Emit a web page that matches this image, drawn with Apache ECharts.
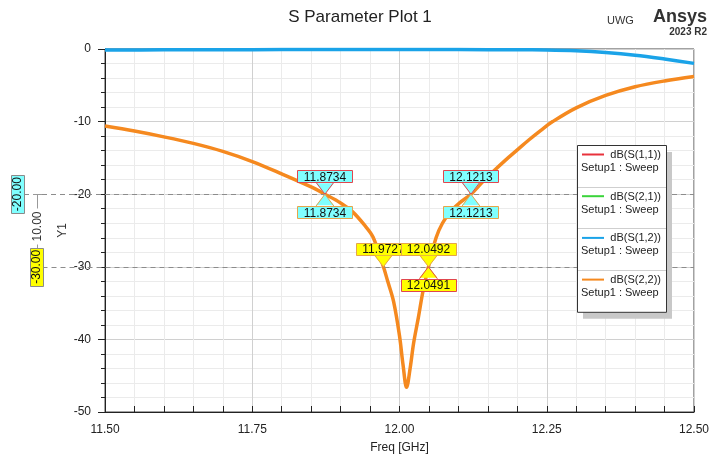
<!DOCTYPE html>
<html><head><meta charset="utf-8">
<script src="https://cdn.jsdelivr.net/npm/echarts@6/dist/echarts.min.js"></script>
<style>html,body{margin:0;padding:0;background:#fff}#c{width:709px;height:455px}</style>
</head><body><div id="c"></div>
<script>
// ---- data ----
const xMin = 11.5, xMax = 12.5, xStep = 0.25;
const yMin = -50, yMax = 0, yStep = 10;

const reflFreq = [11.50, 11.55, 11.60, 11.65, 11.70, 11.75, 11.80, 11.85, 11.8734, 11.90, 11.92, 11.94, 11.955, 11.9727, 11.98, 11.99, 12.00, 12.006, 12.012, 12.018, 12.024, 12.032, 12.04, 12.0492, 12.0621, 12.0729, 12.0875, 12.102, 12.1213, 12.14, 12.16, 12.18, 12.20, 12.22, 12.24, 12.26, 12.30, 12.35, 12.40, 12.45, 12.50];
const s22Db = [-10.6, -11.3, -12.1, -13.0, -14.1, -15.5, -17.2, -19.0, -20.0, -21.2, -22.4, -24.2, -25.9, -30.0, -32.0, -34.8, -39.5, -43.5, -46.6, -44.0, -40.5, -37.0, -33.3, -30.0, -26.0, -24.0, -22.3, -21.2, -20.0, -18.4, -16.8, -15.3, -13.9, -12.5, -11.2, -10.0, -8.1, -6.4, -5.2, -4.4, -3.8];
const s11Db = [-10.6, -11.3, -12.1, -13.0, -14.1, -15.5, -17.2, -19.0, -20.0, -21.2, -22.4, -24.2, -25.9, -30.0, -32.0, -34.8, -39.5, -43.5, -46.6, -44.0, -40.5, -37.0, -33.3, -30.0, -26.0, -24.0, -22.3, -21.2, -20.0, -18.4, -16.8, -15.3, -13.9, -12.5, -11.2, -10.0, -8.1, -6.4, -5.2, -4.4, -3.8];

const transFreq = [11.50, 11.60, 11.70, 11.80, 11.90, 12.00, 12.10, 12.20, 12.25, 12.30, 12.35, 12.40, 12.45, 12.50];
const s12Db = [-0.15, -0.12, -0.10, -0.08, -0.07, -0.07, -0.08, -0.10, -0.14, -0.25, -0.48, -0.85, -1.38, -1.98];
const s21Db = [-0.15, -0.12, -0.10, -0.08, -0.07, -0.07, -0.08, -0.10, -0.14, -0.25, -0.48, -0.85, -1.38, -1.98];

const seriesNames = ['dB(S(1,1))', 'dB(S(2,1))', 'dB(S(1,2))', 'dB(S(2,2))'];
const seriesSub = 'Setup1 : Sweep';
const seriesColors = ['#e8323c', '#3ad43a', '#1aa3e8', '#f5891f'];

const markerFreq = [11.8734, 11.8734, 12.1213, 12.1213, 11.9727, 12.0492, 12.0491];
const markerLevel = [-20, -20, -20, -20, -30, -30, -30];
const markerText = ['11.8734', '11.8734', '12.1213', '12.1213', '11.9727', '12.0492', '12.0491'];
const markerSide = ['up', 'down', 'up', 'down', 'up', 'up', 'down'];
const markerTrace = ['S11', 'S22', 'S11', 'S22', 'S22', 'S22', 'S11'];

const levelValues = [-20, -30];
const levelText = ['-20.00', '-30.00'];

const titleText = 'S Parameter Plot 1';
const xName = 'Freq [GHz]';
const yName = 'Y1';

// ---- chart ----
const FONT = '"Liberation Sans", Arial, sans-serif';
const zip = (a, b) => a.map((v, i) => [v, b[i]]);

function renderMarker(params, api) {
  const i = params.dataIndex;
  const p = api.coord([api.value(0), api.value(1)]);
  const up = markerSide[i] === 'up';
  const w = 55, h = 12, tri = 9, gap = 12;
  const fill = markerLevel[i] === -20 ? '#80ffff' : '#ffff00';
  const stroke = markerTrace[i] === 'S11' ? '#e0464e' : '#e5a54a';
  const baseY = up ? p[1] - gap : p[1] + gap;
  const by = up ? baseY - h : baseY;
  const inner = up ? baseY + 1 : baseY - 1;
  return {
    type: 'group',
    children: [
      { type: 'rect', shape: { x: Math.round(p[0] - w / 2) + 0.5, y: Math.round(by) + 0.5, width: w, height: h }, style: { fill: fill, stroke: stroke, lineWidth: 1 } },
      { type: 'polygon', shape: { points: [[p[0] - tri, inner], [p[0] + tri, inner], [p[0], p[1]]] }, style: { fill: fill } },
      { type: 'polyline', shape: { points: [[p[0] - tri, baseY], [p[0], p[1]], [p[0] + tri, baseY]] }, style: { stroke: stroke, lineWidth: 1, fill: null } },
      { type: 'text', style: { text: markerText[i], x: p[0], y: by + h / 2 + 1, align: 'center', verticalAlign: 'middle', font: '12px ' + FONT, fill: '#111' } }
    ]
  };
}

function renderLevel(params, api) {
  const i = params.dataIndex;
  const p = api.coord([xMin, levelValues[i]]);
  const xr = api.coord([xMax, levelValues[i]])[0];
  const boxCx = [17.5, 36][i];
  const boxW = 13, boxH = 38;
  const fill = i === 0 ? '#80ffff' : '#ffff00';
  const children = [
    { type: 'line', shape: { x1: boxCx + boxW / 2, y1: Math.round(p[1]) + 0.5, x2: xr, y2: Math.round(p[1]) + 0.5 }, style: { stroke: '#8c8c8c', lineWidth: 1, lineDash: [5, 4] } }
  ];
  if (i === 0) {
    const y2 = api.coord([xMin, levelValues[1]])[1];
    const mid = (p[1] + y2) / 2 - 4;
    children.push({ type: 'line', shape: { x1: 37.5, y1: p[1], x2: 37.5, y2: y2 }, style: { stroke: '#999', lineWidth: 1 } });
    children.push({ type: 'line', shape: { x1: 33, y1: Math.round(p[1]) + 0.5, x2: 42, y2: Math.round(p[1]) + 0.5 }, style: { stroke: '#999', lineWidth: 1 } });
    children.push({ type: 'text', rotation: Math.PI / 2, x: 37.5, y: mid, style: { text: (levelValues[0] - levelValues[1]).toFixed(2), align: 'center', verticalAlign: 'middle', font: '12px ' + FONT, fill: '#333', backgroundColor: '#fff', padding: [0, 3] } });
  }
  children.push({ type: 'rect', shape: { x: Math.round(boxCx - boxW / 2) + 0.5, y: Math.round(p[1] - boxH / 2) + 0.5, width: boxW, height: boxH }, style: { fill: fill, stroke: '#8a8a8a', lineWidth: 1 } });
  children.push({ type: 'text', rotation: Math.PI / 2, x: boxCx + 0.5, y: p[1], style: { text: levelText[i], align: 'center', verticalAlign: 'middle', font: '12px ' + FONT, fill: '#111' } });
  return { type: 'group', children: children };
}

// legend graphic
const legX = 577, legY = 145, legW = 89, rowH = 41.7;
const LZ = 100;
const legChildren = [
  { type: 'rect', z: LZ, shape: { x: legX + 6, y: legY + 7, width: legW, height: rowH * 4 }, style: { fill: '#c8c8c8' } },
  { type: 'rect', z: LZ + 1, shape: { x: legX + 0.5, y: legY + 0.5, width: legW, height: rowH * 4 }, style: { fill: '#fff', stroke: '#333', lineWidth: 1 } }
];
seriesNames.forEach((n, k) => {
  const ry = legY + k * rowH;
  if (k > 0) legChildren.push({ type: 'line', z: LZ + 2, shape: { x1: legX + 1, y1: Math.round(ry) + 0.5, x2: legX + legW, y2: Math.round(ry) + 0.5 }, style: { stroke: '#cfcfcf', lineWidth: 1 } });
  legChildren.push({ type: 'line', z: LZ + 2, shape: { x1: legX + 5, y1: ry + 9.5, x2: legX + 27, y2: ry + 9.5 }, style: { stroke: seriesColors[k], lineWidth: 2 } });
  legChildren.push({ type: 'text', z: LZ + 2, style: { text: n, x: legX + legW - 5, y: ry + 10, align: 'right', verticalAlign: 'middle', font: '11px ' + FONT, fill: '#222' } });
  legChildren.push({ type: 'text', z: LZ + 2, style: { text: seriesSub, x: legX + 4, y: ry + 23, align: 'left', verticalAlign: 'middle', font: '11px ' + FONT, fill: '#222' } });
});

const chart = echarts.init(document.getElementById('c'), null, { renderer: 'canvas' });
const axisColor = '#222';
chart.setOption({
  backgroundColor: '#fff',
  animation: false,
  grid: { left: 105, right: 15, top: 49, bottom: 43, show: true, borderColor: '#444', borderWidth: 1, containLabel: false, outerBoundsMode: 'none' },
  xAxis: {
    type: 'value', min: xMin, max: xMax, interval: xStep,
    name: xName, nameLocation: 'middle', nameGap: 30, nameMoveOverlap: false,
    nameTextStyle: { fontFamily: FONT, fontSize: 12, color: '#222' },
    axisLine: { show: true, onZero: false, lineStyle: { color: axisColor } },
    axisTick: { show: true, inside: true, length: 6, lineStyle: { color: axisColor } },
    minorTick: { show: true, splitNumber: 5, length: 6, lineStyle: { color: axisColor } },
    axisLabel: { formatter: v => v.toFixed(2), margin: 12, fontFamily: FONT, fontSize: 12, color: '#222', showMinLabel: true, showMaxLabel: true },
    splitLine: { show: true, lineStyle: { color: '#d0d0d0' } },
    minorSplitLine: { show: true, lineStyle: { color: '#ebebeb' } }
  },
  yAxis: {
    type: 'value', min: yMin, max: yMax, interval: yStep,
    name: yName, nameLocation: 'middle', nameGap: 36, nameRotate: 90, nameMoveOverlap: false,
    nameTextStyle: { fontFamily: FONT, fontSize: 12, color: '#333' },
    axisLine: { show: true, onZero: false, lineStyle: { color: axisColor } },
    axisTick: { show: true, inside: false, length: 7, lineStyle: { color: axisColor } },
    minorTick: { show: true, splitNumber: 5, length: 4, lineStyle: { color: axisColor } },
    axisLabel: { margin: 14, fontFamily: FONT, fontSize: 12, color: '#222' },
    splitLine: { show: true, lineStyle: { color: '#d0d0d0' } },
    minorSplitLine: { show: true, lineStyle: { color: '#ebebeb' } }
  },
  graphic: [
    { type: 'text', style: { text: titleText, x: 360, y: 17, align: 'center', verticalAlign: 'middle', font: '17px ' + FONT, fill: '#222' } },
    { type: 'text', style: { text: 'UWG', x: 607, y: 21, align: 'left', verticalAlign: 'middle', font: '11px ' + FONT, fill: '#333' } },
    { type: 'text', style: { text: 'Ansys', x: 707, y: 17, align: 'right', verticalAlign: 'middle', font: 'bold 18px ' + FONT, fill: '#333' } },
    { type: 'text', style: { text: '2023 R2', x: 707, y: 32, align: 'right', verticalAlign: 'middle', font: 'bold 10px ' + FONT, fill: '#333' } },
    { type: 'group', z: LZ, children: legChildren }
  ],
  series: [
    { name: seriesNames[0], type: 'line', data: zip(reflFreq, s11Db), symbol: 'none', smooth: 0.35, lineStyle: { color: seriesColors[0], width: 1.5 }, z: 2 },
    { name: seriesNames[1], type: 'line', data: zip(transFreq, s21Db), symbol: 'none', smooth: 0.35, lineStyle: { color: seriesColors[1], width: 1.5 }, z: 2 },
    { name: seriesNames[2], type: 'line', data: zip(transFreq, s12Db), symbol: 'none', smooth: 0.35, lineStyle: { color: seriesColors[2], width: 3.5 }, z: 3 },
    { name: seriesNames[3], type: 'line', data: zip(reflFreq, s22Db), symbol: 'none', smooth: 0.35, lineStyle: { color: seriesColors[3], width: 3.5 }, z: 3 },
    { type: 'custom', data: zip(levelValues.map(() => xMin), levelValues), renderItem: renderLevel, clip: false, z: 4, silent: true },
    { type: 'custom', data: zip(markerFreq, markerLevel), renderItem: renderMarker, clip: false, z: 5, silent: true }
  ]
});
</script>
</body></html>
